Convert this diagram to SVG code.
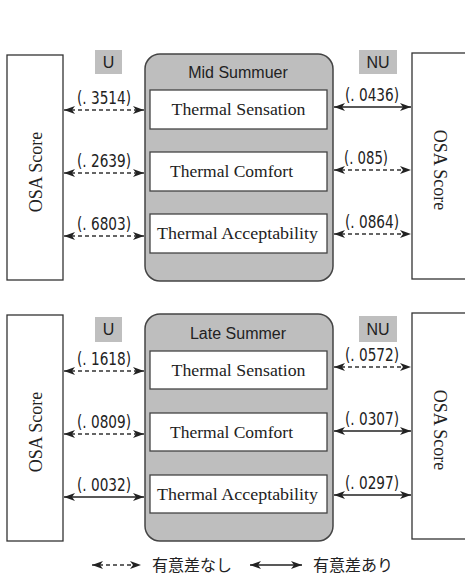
<svg xmlns="http://www.w3.org/2000/svg" width="465" height="576" viewBox="0 0 465 576">
<defs>
<marker id="ah" markerUnits="userSpaceOnUse" markerWidth="11" markerHeight="8" viewBox="0 0 11 8" refX="11" refY="4" orient="auto-start-reverse">
<path d="M0,0 L11,4 L0,8 L3,4 z" fill="#222"/>
</marker>
</defs>
<style>
.bg{fill:#fff}
.osa{fill:#fff;stroke:#333;stroke-width:1.3}
.tag{fill:#bfbfbf}
.tagt{font-family:"Liberation Sans",Arial,sans-serif;font-size:16px;fill:#222;text-anchor:middle}
.cont{fill:#bebebe;stroke:#444;stroke-width:1.5}
.inner{fill:#fff;stroke:#444;stroke-width:1.3}
.title{font-family:"Liberation Sans",Arial,sans-serif;font-size:16px;fill:#222;text-anchor:middle}
.it{font-family:"Liberation Serif","Times New Roman",serif;font-size:16.5px;fill:#222;text-anchor:middle}
.osat{font-family:"Liberation Serif","Times New Roman",serif;font-size:18px;fill:#222;text-anchor:middle}
.lab{font-family:"DejaVu Sans Condensed","Liberation Sans",sans-serif;font-size:17px;fill:#222;text-anchor:middle}
.sol{stroke:#222;stroke-width:1.4;fill:none;marker-start:url(#ah);marker-end:url(#ah)}
.dash{stroke:#333;stroke-width:1.3;stroke-dasharray:4 3;fill:none;marker-start:url(#ah);marker-end:url(#ah)}
.leg{font-family:"Noto Sans CJK JP",sans-serif;font-size:16px;fill:#222}
</style>
<rect class="bg" x="0" y="0" width="465" height="576"/>

<!-- Top section -->
<g id="osa-left-mid">
<rect class="osa" x="7" y="55" width="56" height="225"/>
<text class="osat" transform="translate(42,172) rotate(-90)">OSA Score</text>
</g>
<g id="osa-right-mid">
<rect class="osa" x="412" y="53" width="70" height="226"/>
<text class="osat" transform="translate(434,170) rotate(90)">OSA Score</text>
</g>
<g id="tag-u-mid">
<rect class="tag" x="95" y="50" width="27" height="24"/>
<text class="tagt" x="108.5" y="68">U</text>
</g>
<g id="tag-nu-mid">
<rect class="tag" x="359" y="50" width="38" height="24"/>
<text class="tagt" x="378" y="68">NU</text>
</g>
<g id="mid-summer">
<rect class="cont" x="145" y="54" width="188" height="227" rx="15"/>
<text class="title" x="238" y="78">Mid Summuer</text>
</g>
<g id="mid-sensation">
<rect class="inner" x="150" y="90" width="177" height="39"/>
<text class="it" x="238.5" y="115" textLength="134" lengthAdjust="spacingAndGlyphs">Thermal Sensation</text>
</g>
<g id="mid-comfort">
<rect class="inner" x="150" y="152" width="177" height="39"/>
<text class="it" x="231.5" y="177" textLength="123" lengthAdjust="spacingAndGlyphs">Thermal Comfort</text>
</g>
<g id="mid-acceptability">
<rect class="inner" x="150" y="214" width="177" height="39"/>
<text class="it" x="237.5" y="239" textLength="161" lengthAdjust="spacingAndGlyphs">Thermal Acceptability</text>
</g>

<!-- Bottom section -->
<g id="osa-left-late">
<rect class="osa" x="7" y="315" width="56" height="226"/>
<text class="osat" transform="translate(42,432) rotate(-90)">OSA Score</text>
</g>
<g id="osa-right-late">
<rect class="osa" x="412" y="313" width="70" height="226"/>
<text class="osat" transform="translate(434,430) rotate(90)">OSA Score</text>
</g>
<g id="tag-u-late">
<rect class="tag" x="95" y="317" width="27" height="25"/>
<text class="tagt" x="108.5" y="335">U</text>
</g>
<g id="tag-nu-late">
<rect class="tag" x="359" y="316" width="38" height="26"/>
<text class="tagt" x="378" y="335">NU</text>
</g>
<g id="late-summer">
<rect class="cont" x="145" y="314" width="188" height="227" rx="15"/>
<text class="title" x="238" y="339">Late Summer</text>
</g>
<g id="late-sensation">
<rect class="inner" x="150" y="351" width="177" height="38"/>
<text class="it" x="238.5" y="376" textLength="134" lengthAdjust="spacingAndGlyphs">Thermal Sensation</text>
</g>
<g id="late-comfort">
<rect class="inner" x="150" y="413" width="177" height="38"/>
<text class="it" x="231.5" y="438" textLength="123" lengthAdjust="spacingAndGlyphs">Thermal Comfort</text>
</g>
<g id="late-acceptability">
<rect class="inner" x="150" y="475" width="177" height="38"/>
<text class="it" x="237.5" y="500" textLength="161" lengthAdjust="spacingAndGlyphs">Thermal Acceptability</text>
</g>

<g id="connectors">
<!-- mid summer -->
<line class="dash" x1="64" y1="110" x2="144" y2="110"/>
<text class="lab" x="104" y="104" textLength="54" lengthAdjust="spacingAndGlyphs">(. 3514)</text>
<line class="dash" x1="64" y1="173" x2="144" y2="173"/>
<text class="lab" x="104" y="167" textLength="54" lengthAdjust="spacingAndGlyphs">(. 2639)</text>
<line class="dash" x1="64" y1="236" x2="144" y2="236"/>
<text class="lab" x="104" y="230" textLength="54" lengthAdjust="spacingAndGlyphs">(. 6803)</text>
<line class="sol" x1="334" y1="107" x2="411" y2="107"/>
<text class="lab" x="372" y="101" textLength="54" lengthAdjust="spacingAndGlyphs">(. 0436)</text>
<line class="dash" x1="334" y1="170" x2="411" y2="170"/>
<text class="lab" x="366" y="164" textLength="44" lengthAdjust="spacingAndGlyphs">(. 085)</text>
<line class="dash" x1="334" y1="234" x2="411" y2="234"/>
<text class="lab" x="372" y="228" textLength="54" lengthAdjust="spacingAndGlyphs">(. 0864)</text>
<!-- late summer -->
<line class="dash" x1="64" y1="371" x2="144" y2="371"/>
<text class="lab" x="104" y="365" textLength="54" lengthAdjust="spacingAndGlyphs">(. 1618)</text>
<line class="dash" x1="64" y1="434" x2="144" y2="434"/>
<text class="lab" x="104" y="428" textLength="54" lengthAdjust="spacingAndGlyphs">(. 0809)</text>
<line class="sol" x1="64" y1="497" x2="144" y2="497"/>
<text class="lab" x="104" y="491" textLength="54" lengthAdjust="spacingAndGlyphs">(. 0032)</text>
<line class="dash" x1="334" y1="367" x2="411" y2="367"/>
<text class="lab" x="372" y="361" textLength="54" lengthAdjust="spacingAndGlyphs">(. 0572)</text>
<line class="sol" x1="334" y1="431" x2="411" y2="431"/>
<text class="lab" x="372" y="425" textLength="54" lengthAdjust="spacingAndGlyphs">(. 0307)</text>
<line class="sol" x1="334" y1="495" x2="411" y2="495"/>
<text class="lab" x="372" y="489" textLength="54" lengthAdjust="spacingAndGlyphs">(. 0297)</text>
</g>

<g id="legend">
<line class="dash" x1="92" y1="565" x2="141" y2="565"/>
<text class="leg" x="152" y="571">有意差なし</text>
<line class="sol" x1="250" y1="565" x2="302" y2="565"/>
<text class="leg" x="313" y="571">有意差あり</text>
</g>
</svg>
